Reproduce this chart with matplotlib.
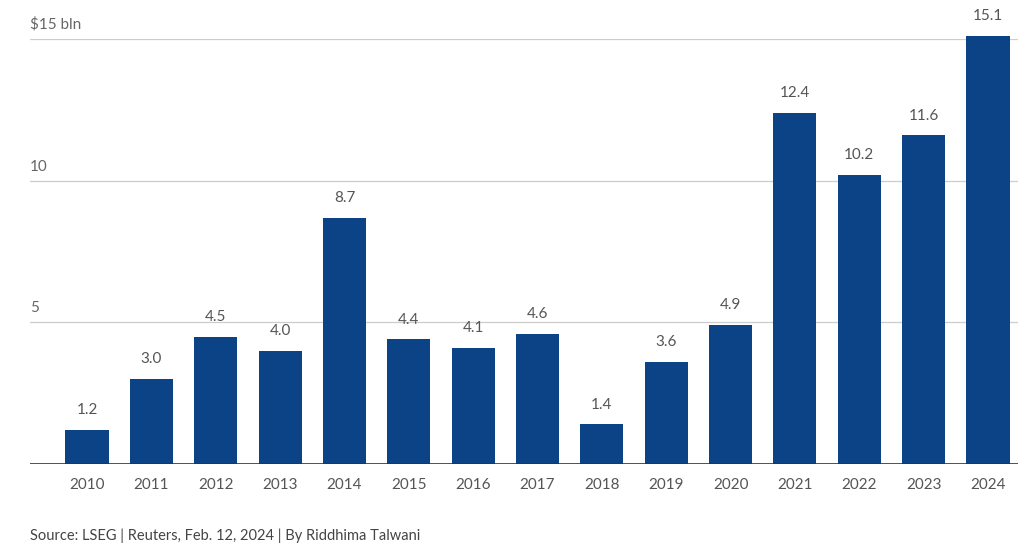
import matplotlib
matplotlib.use("Agg")
import matplotlib.pyplot as plt

years = [str(y) for y in range(2010, 2025)]
values = [1.2, 3.0, 4.5, 4.0, 8.7, 4.4, 4.1, 4.6, 1.4, 3.6, 4.9, 12.4, 10.2, 11.6, 15.1]
ytick_vals = [5, 10, 15]
ytick_labels = ["5", "10", "$15 bln"]

plt.rcParams['font.family'] = ['Lato', 'DejaVu Sans']
fig = plt.figure(figsize=(10.24, 5.55), dpi=100)
ax = fig.add_axes([30/1024, 91/555, 988/1024, 425/555])
x = list(range(len(years)))
ax.bar(x, values, width=0.67, color='#0b4386', zorder=3, clip_on=False)
for xi, v in zip(x, values):
    ax.text(xi, v + 0.45, f"{v:.1f}", ha='center', va='bottom', fontsize=11, color='#555555')
ax.set_xlim(-0.886, 14.466)
ax.set_ylim(0, 15)
for v, lab in zip(ytick_vals, ytick_labels):
    ax.axhline(v, color='#cccccc', lw=0.9, zorder=1)
    ax.text(0, v + 0.25, lab, transform=ax.get_yaxis_transform(), ha='left', va='bottom',
            fontsize=11, color='#666666')
ax.axhline(0, color='#333333', lw=1.2, zorder=4)
ax.set_yticks([])
ax.set_xticks(x)
ax.set_xticklabels(years, fontsize=11, color='#555555')
ax.tick_params(axis='x', length=0, pad=10)
for s in ax.spines.values():
    s.set_visible(False)
fig.text(30/1024, 1 - 536/555, "Source: LSEG | Reuters, Feb. 12, 2024 | By Riddhima Talwani",
         fontsize=10.5, color='#444444', va='center', ha='left')
fig.savefig("out.png", dpi=100)
